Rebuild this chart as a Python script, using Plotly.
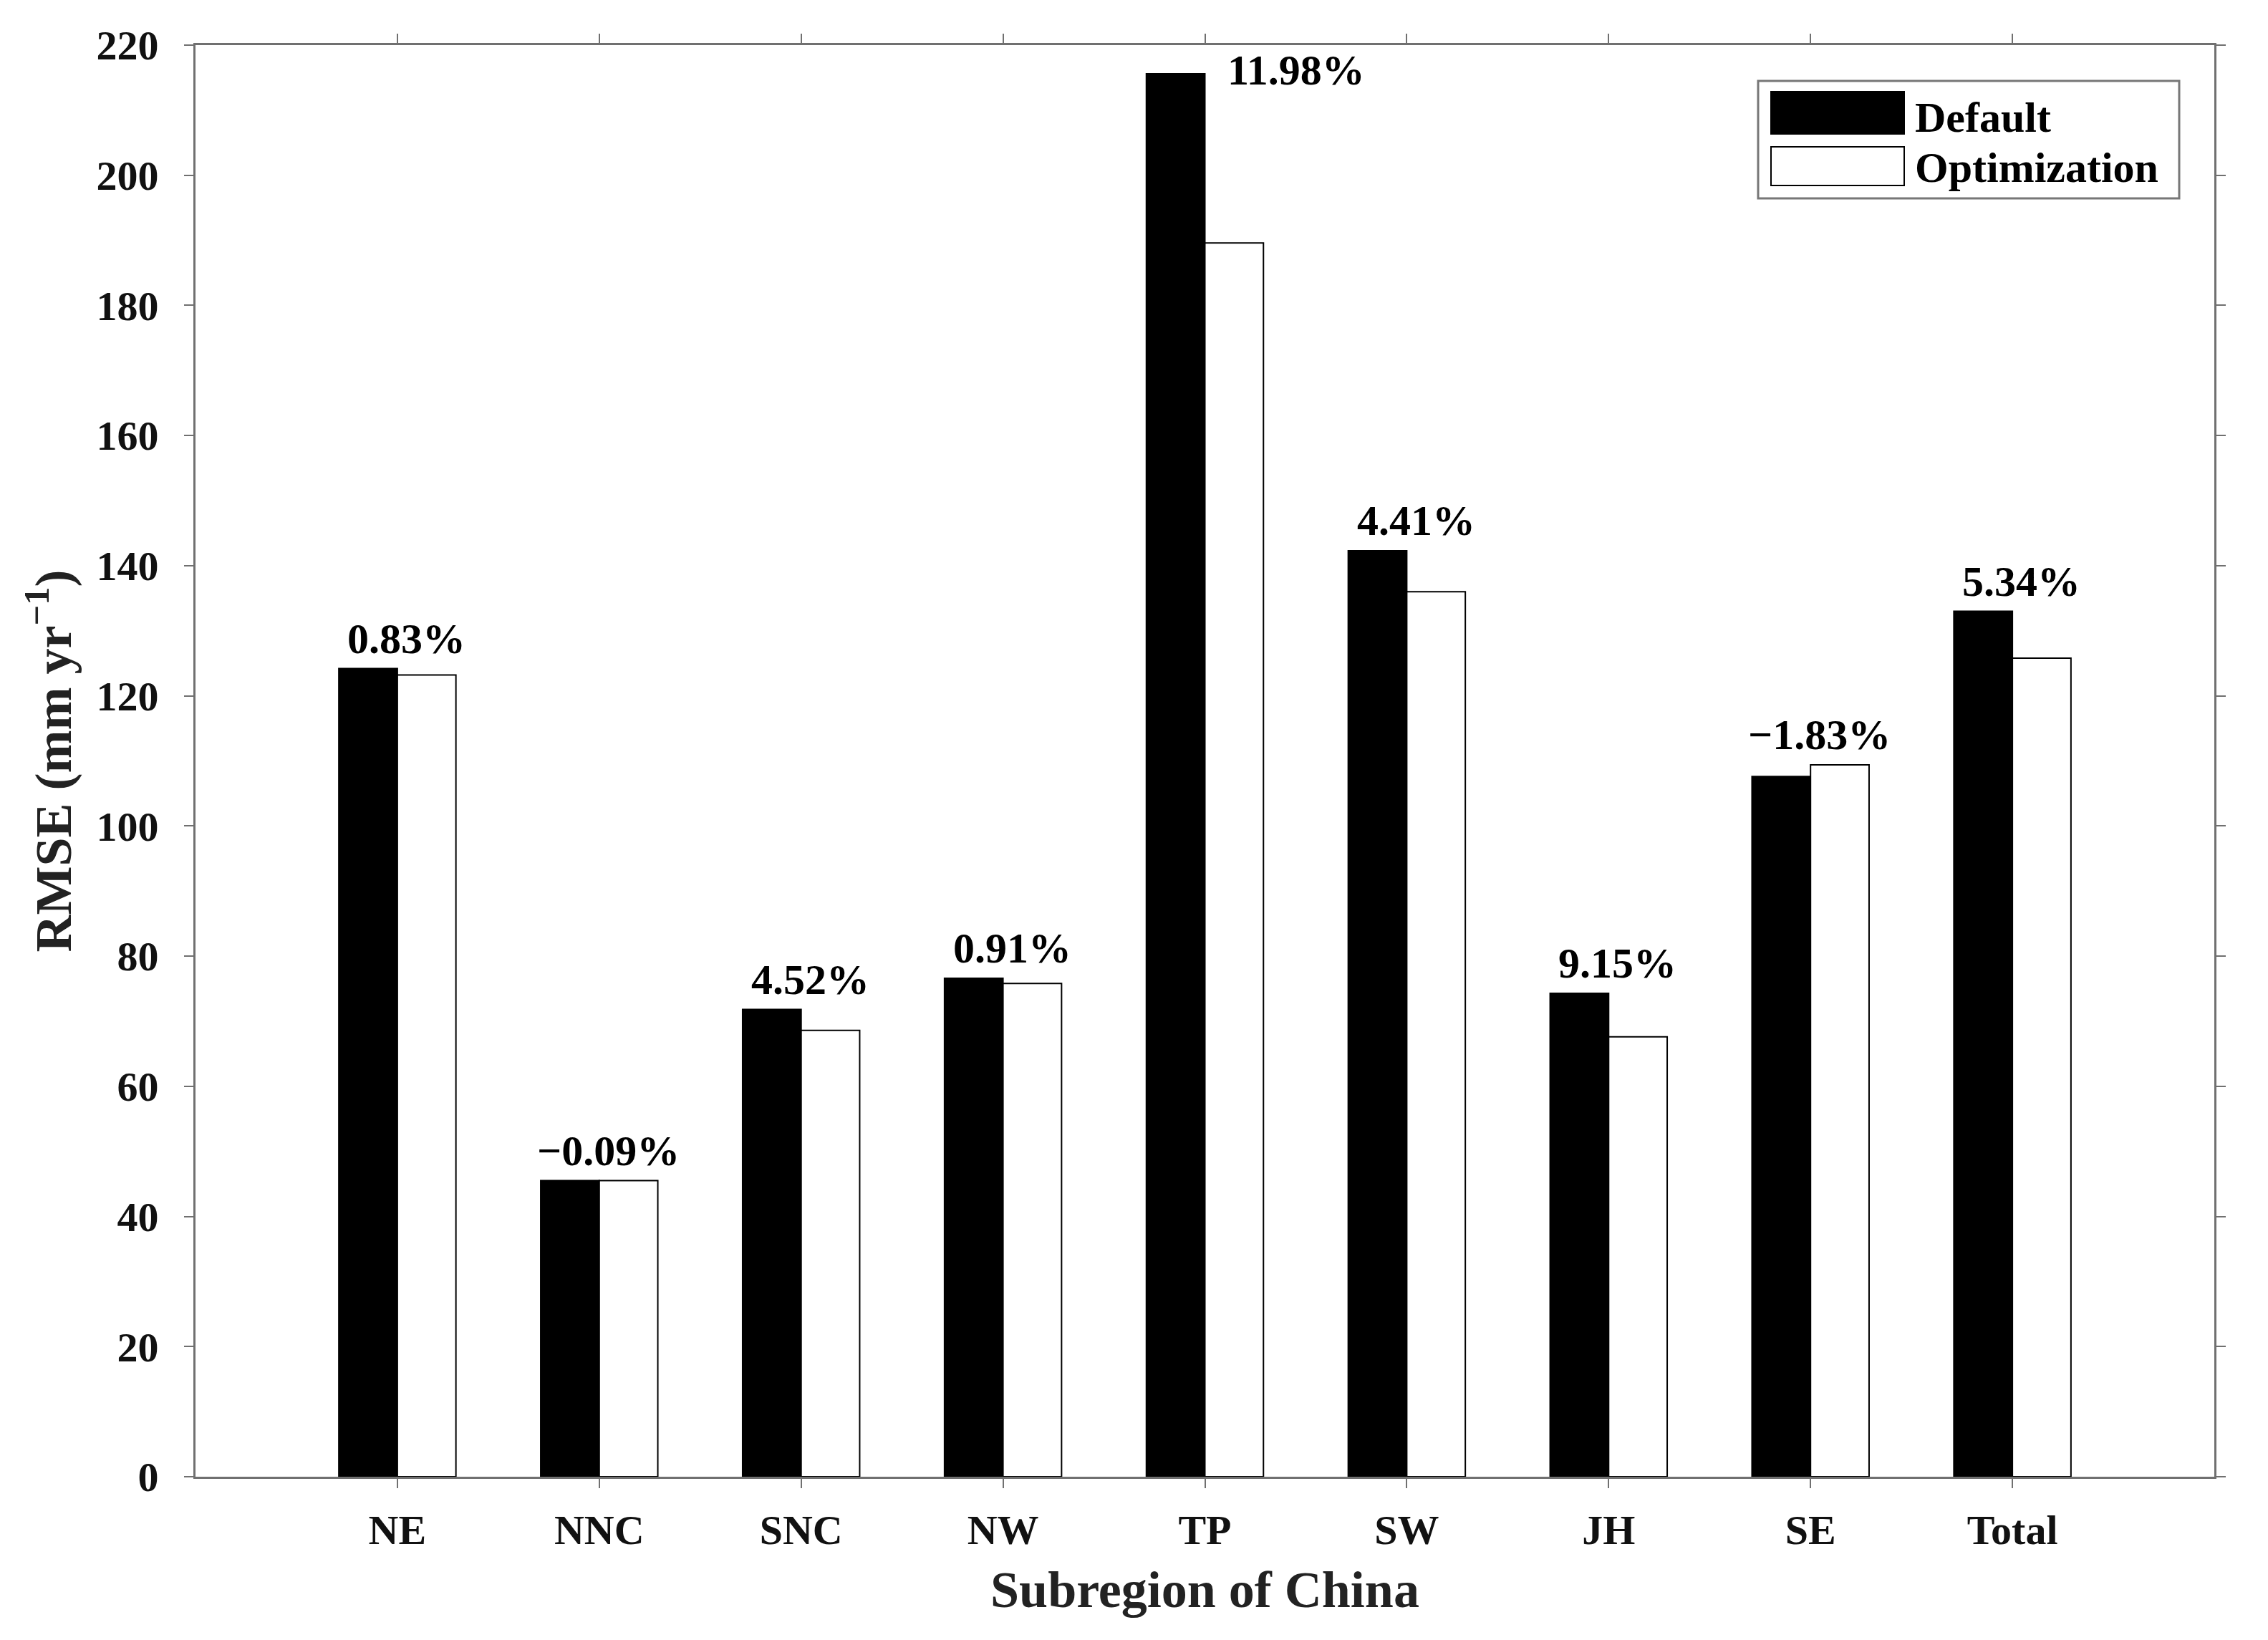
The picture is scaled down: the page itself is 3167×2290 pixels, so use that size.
import plotly.graph_objects as go

categories = ["NE", "NNC", "SNC", "NW", "TP", "SW", "JH", "SE", "Total"]
default_rmse = [124.2, 45.5, 71.8, 76.6, 215.6, 142.3, 74.3, 107.6, 133.0]
optim_rmse = [123.2, 45.5, 68.6, 75.8, 189.6, 136.0, 67.6, 109.4, 125.8]
pct_labels = ["0.83%", "\u22120.09%", "4.52%", "0.91%", "11.98%", "4.41%", "9.15%", "\u22121.83%", "5.34%"]
y_ticks = [0, 20, 40, 60, 80, 100, 120, 140, 160, 180, 200, 220]

FONT = "Liberation Serif, Times New Roman, serif"
AXC = "#707070"
OFF = 8  # default page body margin
W, H = 3167 - 2 * OFF, 2290 - 2 * OFF
# target plot box in page pixels
PL, PR, PT, PB = 273, 3092, 63, 2062
L, T = PL - OFF, PT - OFF
R = OFF + W - PR
B = OFF + H - PB

xpos = list(range(1, len(categories) + 1))

fig = go.Figure()
fig.add_trace(go.Bar(x=xpos, y=default_rmse, name="Default",
                     marker=dict(color="black", line=dict(color="black", width=2)),
                     showlegend=False))
fig.add_trace(go.Bar(x=xpos, y=optim_rmse, name="Optimization",
                     marker=dict(color="white", line=dict(color="black", width=2)),
                     showlegend=False))

annotations = []
for i, (lab, d, o) in enumerate(zip(pct_labels, default_rmse, optim_rmse)):
    top = max(d, o)
    if categories[i] == "TP":
        annotations.append(dict(x=xpos[i] + 0.105, y=d + 0.6, xref="x", yref="y", text=lab,
                                showarrow=False, xanchor="left", yanchor="middle",
                                font=dict(family=FONT, size=60, color="black", weight="bold")))
    else:
        annotations.append(dict(x=xpos[i] + 0.045, y=top + 4.6, xref="x", yref="y", text=lab,
                                showarrow=False, xanchor="center", yanchor="middle",
                                font=dict(family=FONT, size=60, color="black", weight="bold")))

# manual legend (large swatches as in the reference), page-pixel positions -> paper
pw, ph = PR - PL, PB - PT
def px(xp):
    return (xp - PL) / pw
def py(yp):
    return 1 - (yp - PT) / ph

shapes = [
    dict(type="rect", xref="paper", yref="paper", x0=px(2455), x1=px(3043), y0=py(277), y1=py(113),
         line=dict(color="#777777", width=3), fillcolor="white", layer="above"),
    dict(type="rect", xref="paper", yref="paper", x0=px(2473), x1=px(2659), y0=py(187), y1=py(128),
         line=dict(color="black", width=2), fillcolor="black", layer="above"),
    dict(type="rect", xref="paper", yref="paper", x0=px(2473), x1=px(2659), y0=py(259), y1=py(205),
         line=dict(color="black", width=2), fillcolor="white", layer="above"),
]
legend_names = ["Default", "Optimization"]
legend_y = [164, 234]
for name, yy in zip(legend_names, legend_y):
    annotations.append(dict(x=px(2672), y=py(yy), xref="paper", yref="paper", text=name,
                            showarrow=False, xanchor="left", yanchor="middle",
                            font=dict(family=FONT, size=60, color="black", weight="bold")))

fig.update_layout(
    width=W, height=H,
    margin=dict(l=L, r=R, t=T, b=B, autoexpand=False),
    paper_bgcolor="white", plot_bgcolor="white",
    barmode="group", bargap=0.42, bargroupgap=0.0,
    font=dict(family=FONT, size=58, color="black"),
    annotations=annotations, shapes=shapes,
    showlegend=False,
)
fig.update_xaxes(
    range=[0, 10], tickmode="array", tickvals=xpos, ticktext=categories,
    showline=True, linecolor=AXC, linewidth=3, mirror="ticks",
    ticks="outside", ticklen=13, tickwidth=2, tickcolor=AXC,
    showgrid=False, zeroline=False, ticklabelstandoff=8,
    tickfont=dict(family=FONT, size=58, color="#111111", weight="bold"),
    title=dict(text="Subregion of China", standoff=26,
               font=dict(family=FONT, size=72, color="#222222", weight="bold")),
    automargin=False,
)
fig.update_yaxes(
    range=[0, 220], tickmode="array", tickvals=y_ticks,
    showline=True, linecolor=AXC, linewidth=3, mirror="ticks",
    ticks="outside", ticklen=13, tickwidth=2, tickcolor=AXC,
    showgrid=False, zeroline=False, ticklabelstandoff=24,
    tickfont=dict(family=FONT, size=58, color="#111111", weight="bold"),
    title=dict(text="RMSE (mm yr<sup>\u22121</sup>)", standoff=12,
               font=dict(family=FONT, size=72, color="#222222", weight="bold")),
    automargin=False,
)

fig.write_html("out.html")
